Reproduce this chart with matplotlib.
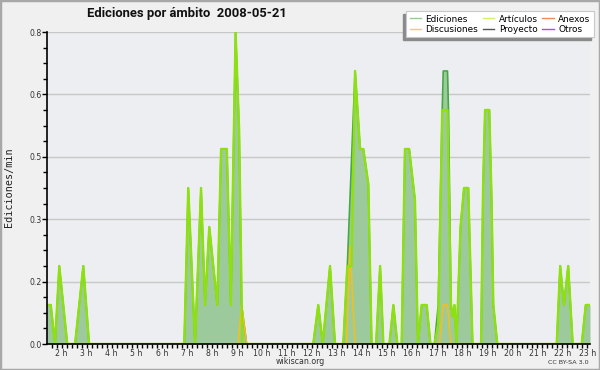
import matplotlib
matplotlib.use('Agg')
import matplotlib.pyplot as plt
import numpy as np
from matplotlib.ticker import MultipleLocator, FuncFormatter
from matplotlib.lines import Line2D
from matplotlib.patches import Rectangle

nan = np.nan
title = 'Ediciones por ámbito  2008-05-21'

# hour of day / edits per minute
ed_h = [1.42, 1.57, 1.74, 1.91, 2.23, 2.54, 2.87, 3.10,
        6.90, 7.06, 7.33, 7.57, 7.73, 7.90, 8.22, 8.37, 8.60, 8.76, 8.95, 9.09, 9.19, 9.39,
        12.05, 12.25, 12.43, 12.72, 12.92, 13.25, 13.41, 13.72, 13.92, 14.05, 14.25, 14.38,
        14.56, 14.72, 14.85, 15.09, 15.25, 15.41, 15.58, 15.71, 15.88, 16.11, 16.23,
        16.38, 16.58, 16.73, 16.89, 17.04, 17.20, 17.24, 17.41, 17.45, 17.55, 17.62, 17.69,
        17.77, 17.93, 18.07, 18.24, 18.41, 18.75, 18.83, 18.91, 19.08, 19.17, 19.24, 19.40,
        21.77, 21.91, 22.06, 22.23, 22.41, 22.77, 22.93, 23.10]
ed_v = [0.1, 0.1, 0.0, 0.2, 0.0, 0.0, 0.2, 0.0,
        0.0, 0.4, 0.0, 0.4, 0.1, 0.3, 0.1, 0.5, 0.5, 0.1, 0.8, 0.55, 0.1, 0.0,
        0.0, 0.1, 0.0, 0.2, 0.0, 0.0, 0.2, 0.7, 0.5, 0.5, 0.41, 0.0,
        0.0, 0.2, 0.0, 0.0, 0.1, 0.0, 0.0, 0.5, 0.5, 0.37, 0.0,
        0.1, 0.1, 0.0, 0.0, 0.1, 0.6, 0.7, 0.7, 0.6, 0.1, 0.07, 0.1,
        0.0, 0.3, 0.4, 0.4, 0.0, 0.0, 0.4, 0.6, 0.6, 0.37, 0.1, 0.0,
        0.0, 0.2, 0.1, 0.2, 0.0, 0.0, 0.1, 0.1]

art_h = [1.42, 1.57, 1.74, 1.91, 2.23, 2.54, 2.87, 3.10,
         6.90, 7.06, 7.33, 7.57, 7.73, 7.90, 8.22, 8.37, 8.60, 8.76, 8.95, 9.09, 9.22,
         12.05, 12.25, 12.43, 12.72, 12.92, 13.25, 13.41, 13.58, 13.72, 13.92, 14.05, 14.25, 14.38,
         14.56, 14.72, 14.85, 15.09, 15.25, 15.41, 15.58, 15.71, 15.88, 16.11, 16.23,
         16.38, 16.58, 16.73, 16.89, 17.04, 17.20, 17.41, 17.55, 17.62, 17.69,
         17.77, 17.93, 18.07, 18.24, 18.41, 18.75, 18.83, 18.91, 19.08, 19.17, 19.24, 19.40,
         21.77, 21.91, 22.06, 22.23, 22.41, 22.77, 22.93, 23.10]
art_v = [0.1, 0.1, 0.0, 0.2, 0.0, 0.0, 0.2, 0.0,
         0.0, 0.4, 0.0, 0.4, 0.1, 0.3, 0.1, 0.5, 0.5, 0.1, 0.8, 0.55, 0.0,
         0.0, 0.1, 0.0, 0.2, 0.0, 0.0, 0.2, 0.2, 0.7, 0.5, 0.5, 0.41, 0.0,
         0.0, 0.2, 0.0, 0.0, 0.1, 0.0, 0.0, 0.5, 0.5, 0.37, 0.0,
         0.1, 0.1, 0.0, 0.0, 0.05, 0.6, 0.6, 0.1, 0.07, 0.1,
         0.0, 0.3, 0.4, 0.4, 0.0, 0.0, 0.4, 0.6, 0.6, 0.37, 0.1, 0.0,
         0.0, 0.2, 0.1, 0.2, 0.0, 0.0, 0.1, 0.1]

disc_h = [9.05, 9.19, 9.39, nan, 13.38, 13.52, 13.72, nan, 17.09, 17.24, 17.41, 17.54]
disc_v = [0.0, 0.1, 0.0, nan, 0.0, 0.25, 0.0, nan, 0.0, 0.1, 0.1, 0.0]

hours = list(range(2, 24))
legend_labels = ['Ediciones', 'Discusiones', 'Artículos', 'Proyecto', 'Anexos', 'Otros']
legend_colors = ['#8fd18f', '#f5d050', '#d4f060', '#555555', '#f08a5a', '#9955ee']

fig = plt.figure(figsize=(6, 3.7), dpi=100, facecolor='#f0f0f0')
ax = fig.add_axes([47/600, 1-344/370, 543/600, 312/370])
ax.set_facecolor('#eceef1')

ax.fill_between(ed_h, ed_v, 0, color='#9dca9d', lw=0, zorder=2)
ax.plot(ed_h, ed_v, color='#44a844', lw=1.2, zorder=2.1)
ax.plot(disc_h, disc_v, color='#f0c020', lw=1.2, zorder=2.2)
ax.plot(art_h, art_v, color='#8ee010', lw=1.7, zorder=2.3)

ax.set_xlim(1.42, 23.1)
ax.set_ylim(0, 0.8)
ax.set_xticks(hours)
ax.set_xticklabels(['%d h' % h for h in hours])
ax.xaxis.set_minor_locator(MultipleLocator(0.2))
ax.set_yticks(np.arange(0, 0.81, 0.16))
ax.yaxis.set_major_formatter(FuncFormatter(lambda v, p: '%.1f' % v))
ax.yaxis.set_minor_locator(MultipleLocator(0.04))
ax.tick_params(which='major', length=3.5, width=1, pad=0.5, labelsize=5.6, labelcolor='#333333')
ax.tick_params(which='minor', length=3, width=1)
ax.tick_params(axis='x', which='major', length=3)
ax.grid(axis='y', color='#c8c8c8', lw=1)
ax.set_axisbelow(True)
for s in ['top', 'right']:
    ax.spines[s].set_visible(False)
for s in ['left', 'bottom']:
    ax.spines[s].set_linewidth(1.2)

fig.text(187/600, 1-14/370, title, ha='center', va='center', fontsize=9.4,
         fontweight='bold', family='Roboto', color='#111111')
fig.text(9/600, 1-187/370, 'Ediciones/min', rotation=90, ha='center', va='center',
         fontsize=7.3, family='DejaVu Sans Mono', color='#222222')
fig.text(300/600, 1-362/370, 'wikiscan.org', ha='center', va='center',
         fontsize=5.7, color='#333333')
fig.text(589/600, 1-362/370, 'CC BY-SA 3.0', ha='right', va='center',
         fontsize=4.6, color='#333333')

handles = [Line2D([], [], color=c, lw=1) for c in legend_colors]
leg = fig.legend(handles, legend_labels, ncol=3, loc='upper right',
                 bbox_to_anchor=(594/600, 1-11/370), bbox_transform=fig.transFigure,
                 borderaxespad=0, prop={'size': 6.4},
                 handlelength=1.3, handletextpad=0.5, columnspacing=0.5,
                 labelspacing=0.15, borderpad=0.4, fancybox=False, framealpha=1)
leg.get_frame().set_edgecolor('#c8c8c8')
leg.get_frame().set_linewidth(0.8)
leg.set_zorder(6)

fig.canvas.draw()
bb = leg.get_frame().get_window_extent()
fig.patches.append(Rectangle(((bb.x0-3)/600, (bb.y0-3)/370), bb.width/600, bb.height/370,
                             transform=fig.transFigure, color='#8a8a8a', zorder=5))
fig.patches.append(Rectangle((0, 0), 1, 1, transform=fig.transFigure, fill=False,
                             edgecolor='#a8a8a8', lw=2.5, zorder=10))

fig.savefig('out.png', dpi=100, facecolor=fig.get_facecolor())
